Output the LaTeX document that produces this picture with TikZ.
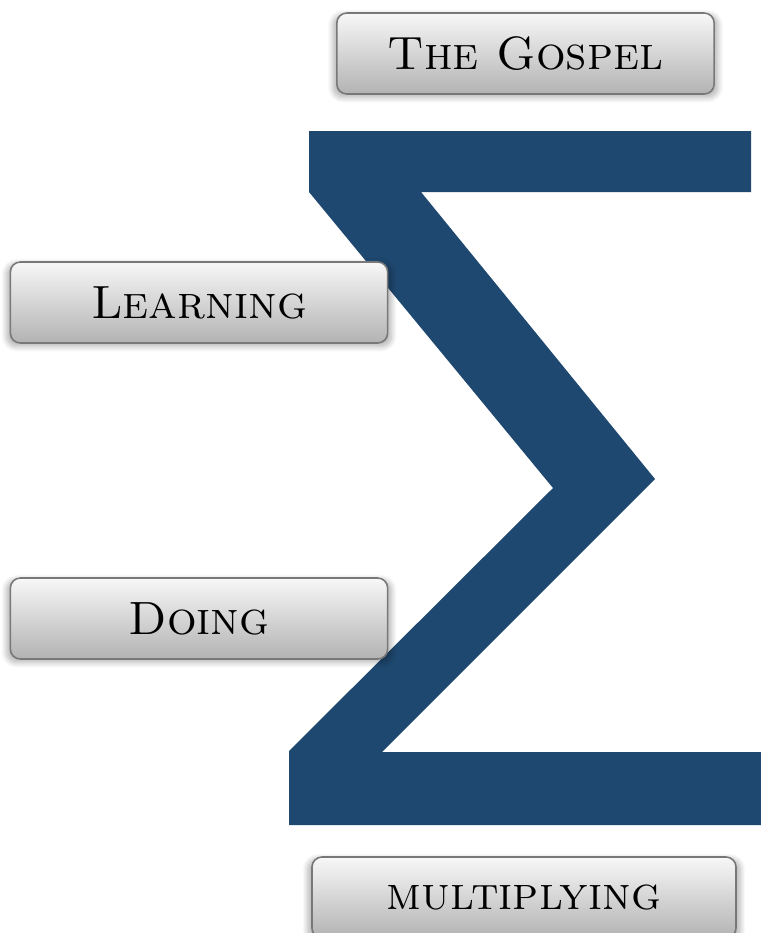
\documentclass[tikz,border=0pt]{standalone}
\usetikzlibrary{shadows.blur}
\definecolor{sigmablue}{HTML}{1F4870}
\definecolor{btnedge}{HTML}{787878}
\tikzset{
  stepbtn/.style={draw=btnedge, line width=1.2pt, rounded corners=7.5pt,
    top color=gray!6, bottom color=gray!60, minimum height=60.75pt,
    minimum width=283pt, inner sep=0pt,
    blur shadow={shadow xshift=0pt, shadow yshift=-2pt, shadow scale=1.02,
      shadow opacity=30, shadow blur steps=8, shadow blur radius=4pt},
    font=\fontsize{35}{35}\selectfont\scshape}
}
\begin{document}
\begin{tikzpicture}[x=0.75pt, y=-0.75pt]
    \useasboundingbox (0, 0) rectangle (761, 933);
    \fill[sigmablue] (309, 131) -- (751, 131) -- (751, 192) -- (421, 192)
      -- (655, 479) -- (382, 752) -- (761, 752) -- (761, 825) -- (289, 825)
      -- (289, 751) -- (553, 488) -- (309, 192) -- cycle;

    \node[stepbtn] (gospel) at (525.5, 53.5) {The Gospel};
    \node[stepbtn] (learning) at (199, 302.5) {Learning};
    \node[stepbtn] (doing) at (199, 618.5) {Doing};
    \node[stepbtn, minimum width=318pt] (multiplying) at (524, 897.5) {multiplying};
  \end{tikzpicture}
\end{document}
